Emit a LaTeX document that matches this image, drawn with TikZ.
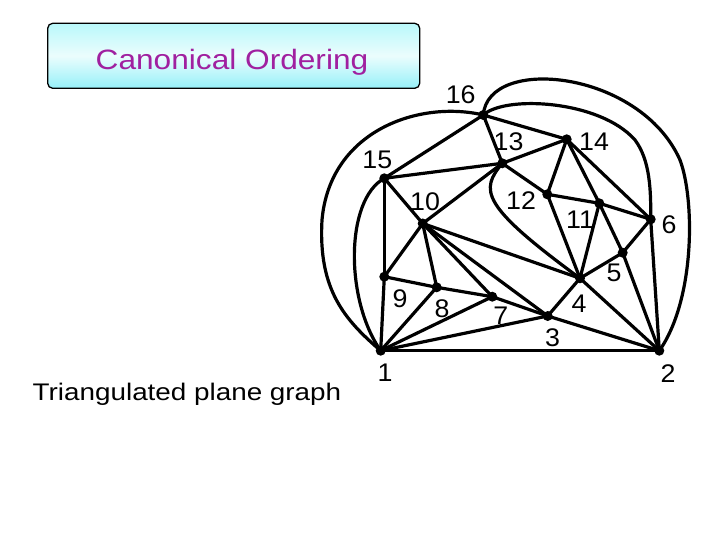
\documentclass[tikz,border=0pt]{standalone}
\usepackage{fontspec}
\setmainfont{Liberation Sans}
\newfontfamily\widefont[FakeStretch=1.16]{Liberation Sans}
\newfontfamily\titlefont[FakeStretch=1.13]{Liberation Sans}
\newfontfamily\digitfont[FakeStretch=1.05]{Liberation Sans}
\begin{document}
\begin{tikzpicture}[x=1pt,y=-1pt,
  dot/.style={circle,fill=black,inner sep=0pt,minimum size=10pt},
  edge/.style={line width=3.2pt,line cap=round,line join=round},
  lbl/.style={font=\digitfont\fontsize{25.5}{27}\selectfont,inner sep=0pt},
  titlebox/.style={draw=black,line width=1.3pt,rounded corners=5pt,
    top color={rgb,255:red,185;green,248;blue,250},
    bottom color={rgb,255:red,150;green,240;blue,248},
    middle color={rgb,255:red,235;green,253;blue,253}}]
\useasboundingbox (0,0) rectangle (720,540);
\definecolor{ttl}{RGB}{160,32,160}
% title
\node[titlebox,minimum width=372pt,minimum height=65pt,inner sep=0pt] (title) at (233.7,55.8) {};
\node[font=\titlefont\fontsize{28}{30}\selectfont,text=ttl,inner sep=0pt] (ttext) at (232,62.5) {Canonical Ordering};
\node[font=\widefont\fontsize{24}{26}\selectfont,inner sep=0pt] (cap) at (187,394.5) {Triangulated plane graph};
% vertices
\node[dot] (n1) at (380.7,350.7) {};
\node[dot] (n2) at (659.3,350.7) {};
\node[dot] (n3) at (547.7,316) {};
\node[dot] (n4) at (580,278.3) {};
\node[dot] (n5) at (622.7,252.7) {};
\node[dot] (n6) at (650.7,219.3) {};
\node[dot] (n7) at (492.3,296.7) {};
\node[dot] (n8) at (436.7,287.3) {};
\node[dot] (n9) at (384.3,276.7) {};
\node[dot] (n10) at (422.7,223.5) {};
\node[dot] (n11) at (599.3,203.3) {};
\node[dot] (n12) at (547.3,194.3) {};
\node[dot] (n13) at (502.3,163.3) {};
\node[dot] (n14) at (566.7,139.3) {};
\node[dot] (n15) at (384.3,178.3) {};
\node[dot] (n16) at (483.3,115) {};
% labels
\node[lbl] (l1) at (385,373) {1};
\node[lbl] (l2) at (668,374) {2};
\node[lbl] (l3) at (552.5,337.5) {3};
\node[lbl] (l4) at (579,304) {4};
\node[lbl] (l5) at (614,273) {5};
\node[lbl] (l6) at (669,225) {6};
\node[lbl] (l7) at (500.8,316) {7};
\node[lbl] (l8) at (442,308.5) {8};
\node[lbl] (l9) at (400,298.5) {9};
\node[lbl] (l10) at (425,201.5) {10};
\node[lbl] (l11) at (580,220) {11};
\node[lbl] (l12) at (521,201) {12};
\node[lbl] (l13) at (508.5,142) {13};
\node[lbl] (l14) at (594,142) {14};
\node[lbl] (l15) at (377.3,159.7) {15};
\node[lbl] (l16) at (460.7,94.7) {16};
% straight edges
\draw[edge] (n1.center) -- (n2.center);
\draw[edge] (n1.center) -- (n9.center);
\draw[edge] (n1.center) -- (n8.center);
\draw[edge] (n1.center) -- (n7.center);
\draw[edge] (n1.center) -- (n3.center);
\draw[edge] (n9.center) -- (n10.center);
\draw[edge] (n9.center) -- (n8.center);
\draw[edge] (n9.center) -- (n15.center);
\draw[edge] (n8.center) -- (n10.center);
\draw[edge] (n8.center) -- (n7.center);
\draw[edge] (n7.center) -- (n10.center);
\draw[edge] (n7.center) -- (n3.center);
\draw[edge] (n10.center) -- (n3.center);
\draw[edge] (n10.center) -- (n4.center);
\draw[edge] (n10.center) -- (n15.center);
\draw[edge] (n10.center) -- (n13.center);
\draw[edge] (n3.center) -- (n4.center);
\draw[edge] (n3.center) -- (n2.center);
\draw[edge] (n4.center) -- (n2.center);
\draw[edge] (n4.center) -- (n5.center);
\draw[edge] (n4.center) -- (n11.center);
\draw[edge] (n4.center) -- (n12.center);
\draw[edge] (n5.center) -- (n2.center);
\draw[edge] (n5.center) -- (n6.center);
\draw[edge] (n5.center) -- (n11.center);
\draw[edge] (n6.center) -- (n2.center);
\draw[edge] (n6.center) -- (n11.center);
\draw[edge] (n6.center) -- (n14.center);
\draw[edge] (n11.center) -- (n12.center);
\draw[edge] (n11.center) -- (n14.center);
\draw[edge] (n12.center) -- (n14.center);
\draw[edge] (n12.center) -- (n13.center);
\draw[edge] (n13.center) -- (n14.center);
\draw[edge] (n13.center) -- (n15.center);
\draw[edge] (n13.center) -- (n16.center);
\draw[edge] (n14.center) -- (n16.center);
\draw[edge] (n15.center) -- (n16.center);
% curved edges
\draw[edge] (n13.center) .. controls (480,190) and (480,205) .. (n4.center);
\draw[edge] (n15.center) .. controls (345,200) and (345,300) .. (n1.center);
\draw[edge] (n16.center) .. controls (420,100) and (330,130) .. (322,220)
  .. controls (318,290) and (345,320) .. (n1.center);
\draw[edge] (n16.center) .. controls (505,95) and (600,100) .. (635,140)
  .. controls (650,160) and (651,190) .. (n6.center);
\draw[edge] (n16.center) .. controls (488,55) and (640,70) .. (680,160)
  .. controls (695,200) and (695,300) .. (n2.center);
\end{tikzpicture}
\end{document}
